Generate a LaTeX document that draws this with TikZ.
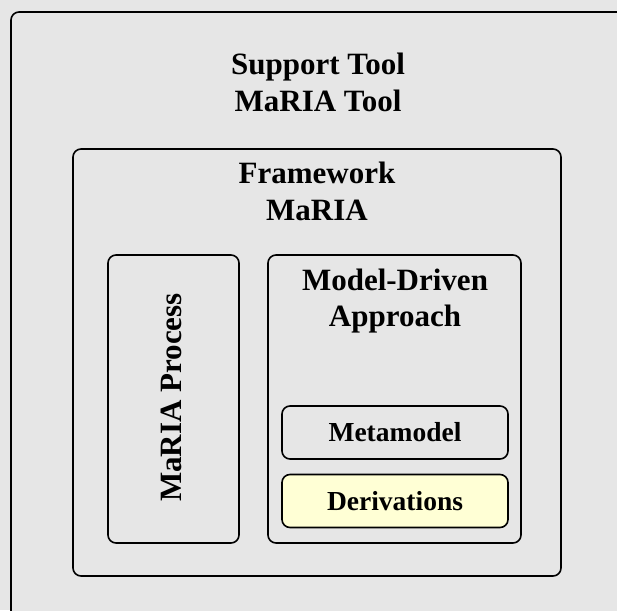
\documentclass[tikz,border=0pt]{standalone}
\usepackage{fontspec}
\setmainfont{Liberation Serif}
\definecolor{panel}{HTML}{E6E6E6}
\definecolor{note}{HTML}{FFFFD5}
\begin{document}
\begin{tikzpicture}[x=1pt,y=-1pt,
  frame/.style={draw=black,line width=1.6pt,rounded corners=8pt,fill=panel},
  label/.style={font=\fontsize{31}{36.5}\selectfont\bfseries,align=center,inner sep=0pt},
  item/.style={frame,minimum width=226pt,minimum height=53pt,font=\fontsize{27.5}{32}\selectfont\bfseries}]
  \fill[panel] (0,0) rectangle (617,610);
  \useasboundingbox (0,0) rectangle (617,610);
  \begin{scope}
    \clip (0,0) rectangle (617,610);
    \draw[frame] (11,12) rectangle (640,640);
  \end{scope}
  \node[label] (tool) at (318,82.5) {Support Tool\\MaRIA Tool};
  \draw[frame] (73,149) rectangle (561,576);
  \node[label] (fw) at (317,191.5) {Framework\\MaRIA};
  \draw[frame] (108,255) rectangle (239,543);
  \node[label,rotate=90] (proc) at (171.5,397.5) {MaRIA Process};
  \draw[frame] (268,255) rectangle (521,543);
  \node[label] (mda) at (395,301) {Model-Driven\\Approach};
  \node[item] (meta) at (395,432.5) {Metamodel};
  \node[item,fill=note] (deriv) at (395,501) {Derivations};
\end{tikzpicture}
\end{document}
